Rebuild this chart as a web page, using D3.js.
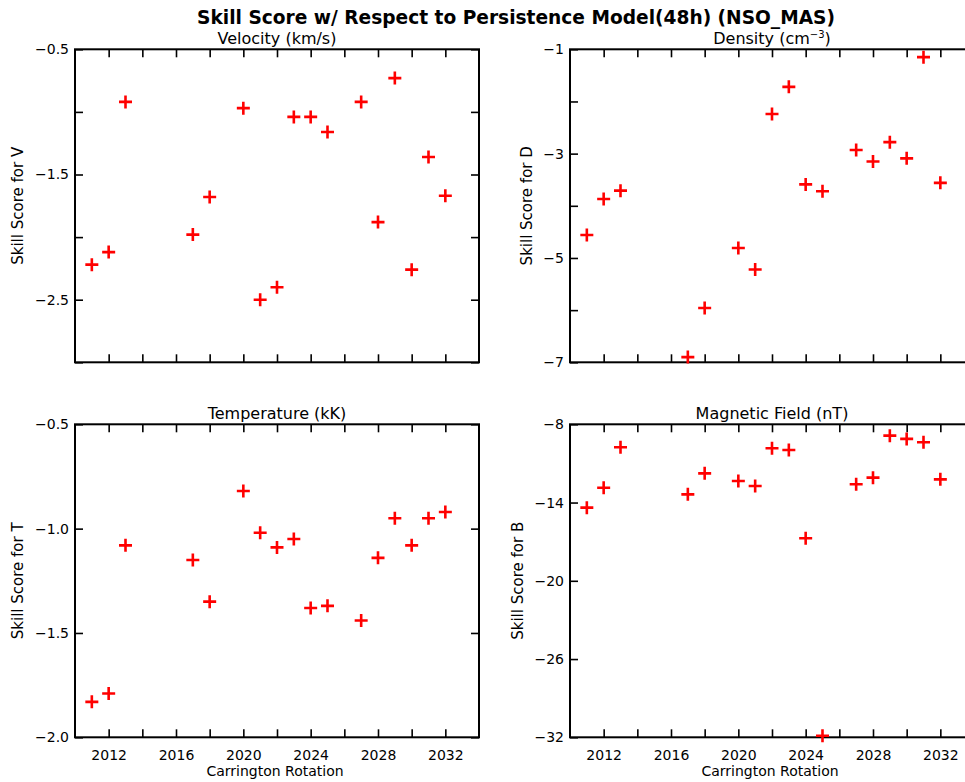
<!DOCTYPE html>
<html><head><meta charset="utf-8">
<script src="https://cdn.jsdelivr.net/npm/d3@7"></script>
<style>
body{margin:0;background:#fff}
svg{display:block}
text{font-family:"DejaVu Sans",sans-serif;fill:#000}
</style>
</head><body>
<svg id="chart" width="965" height="782"></svg>
<script>
// ---- data ----
const rotations   = [2011,2012,2013,2017,2018,2020,2021,2022,2023,2024,2025,2027,2028,2029,2030,2031,2032];
const velocity    = [-2.22,-2.12,-0.92,-1.98,-1.68,-0.97,-2.50,-2.40,-1.04,-1.04,-1.16,-0.92,-1.88,-0.73,-2.26,-1.36,-1.67];
const density     = [-4.56,-3.87,-3.71,-6.90,-5.96,-4.81,-5.22,-2.24,-1.72,-3.59,-3.72,-2.93,-3.15,-2.78,-3.09,-1.15,-3.56];
const temperature = [-1.83,-1.79,-1.08,-1.15,-1.35,-0.82,-1.02,-1.09,-1.05,-1.38,-1.37,-1.44,-1.14,-0.95,-1.08,-0.95,-0.92];
const magnetic    = [-14.39,-12.86,-9.76,-13.37,-11.76,-12.35,-12.73,-9.84,-9.97,-16.74,-31.88,-12.60,-12.09,-8.87,-9.12,-9.38,-12.22];

const xDomain     = [2010, 2034];
const xTicks      = [2012,2014,2016,2018,2020,2022,2024,2026,2028,2030,2032];
const xTickLabels = [2012,2016,2020,2024,2028,2032];

const vDomain = [-3, -0.5],  vTicks = [-0.5,-1,-1.5,-2,-2.5,-3], vTickLabels = [-0.5,-1.5,-2.5];
const dDomain = [-7, -1],    dTicks = [-1,-2,-3,-4,-5,-6,-7],   dTickLabels = [-1,-3,-5,-7];
const tDomain = [-2, -0.5],  tTicks = [-0.5,-1,-1.5,-2],        tTickLabels = [-0.5,-1.0,-1.5,-2.0];
const bDomain = [-32, -8],   bTicks = [-8,-14,-20,-26,-32],     bTickLabels = [-8,-14,-20,-26,-32];

const mainTitle = "Skill Score w/ Respect to Persistence Model(48h) (NSO_MAS)";
const xTitle = "Carrington Rotation";

// ---- layout ----
const svg = d3.select("#chart");
const W = 404;
const panels = [
  {x0:75,  y0:49.3,  y1:362.3, vals:velocity,    dom:vDomain, ticks:vTicks, labels:vTickLabels, fmt:d3.format(".1f"), title:"Velocity (km/s)", ytitle:"Skill Score for V", ytx:23, bottom:false},
  {x0:570, y0:49.3,  y1:362.3, vals:density,     dom:dDomain, ticks:dTicks, labels:dTickLabels, fmt:d3.format("d"),   title:"Density", sup:true, ytitle:"Skill Score for D", ytx:532, bottom:false},
  {x0:75,  y0:424.3, y1:737.3, vals:temperature, dom:tDomain, ticks:tTicks, labels:tTickLabels, fmt:d3.format(".1f"), title:"Temperature (kK)", ytitle:"Skill Score for T", ytx:23, bottom:true},
  {x0:570, y0:424.3, y1:737.3, vals:magnetic,    dom:bDomain, ticks:bTicks, labels:bTickLabels, fmt:d3.format("d"),   title:"Magnetic Field (nT)", ytitle:"Skill Score for B", ytx:523, bottom:true}
];
const minus = s => s.replace("-", "\u2212");

svg.append("text").attr("x", 516).attr("y", 23.5).attr("text-anchor","middle")
  .style("font-size","18.6px").style("font-weight","bold").text(mainTitle);

panels.forEach(p => {
  const x = d3.scaleLinear().domain(xDomain).range([p.x0, p.x0 + W]);
  const y = d3.scaleLinear().domain(p.dom).range([p.y1, p.y0]);
  const g = svg.append("g");
  const tick = 8;

  const styleAxis = sel => {
    sel.select(".domain").remove();
    sel.selectAll(".tick line").attr("stroke","#000").attr("stroke-width",1.6);
    sel.selectAll("text").style("font-size","14px").style("font-family","DejaVu Sans, sans-serif").attr("fill","#000");
  };

  // left axis with labels
  g.append("g").attr("transform",`translate(${p.x0},0)`)
    .call(d3.axisLeft(y).tickValues(p.ticks).tickSizeInner(-tick).tickSizeOuter(0).tickPadding(6)
      .tickFormat(v => p.labels.some(l => Math.abs(l - v) < 1e-9) ? minus(p.fmt(v)) : ""))
    .call(styleAxis);
  // right axis
  g.append("g").attr("transform",`translate(${p.x0 + W},0)`)
    .call(d3.axisRight(y).tickValues(p.ticks).tickSizeInner(-tick).tickSizeOuter(0).tickFormat(""))
    .call(styleAxis);
  // top axis
  g.append("g").attr("transform",`translate(0,${p.y0})`)
    .call(d3.axisTop(x).tickValues(xTicks).tickSizeInner(-tick).tickSizeOuter(0).tickFormat(""))
    .call(styleAxis);
  // bottom axis
  g.append("g").attr("transform",`translate(0,${p.y1})`)
    .call(d3.axisBottom(x).tickValues(xTicks).tickSizeInner(-tick).tickSizeOuter(0).tickPadding(13)
      .tickFormat(v => p.bottom && xTickLabels.includes(v) ? String(v) : ""))
    .call(styleAxis);

  // box
  g.append("rect").attr("x", p.x0).attr("y", p.y0).attr("width", W).attr("height", p.y1 - p.y0)
    .attr("fill","none").attr("stroke","#000").attr("stroke-width",2);

  // panel title
  const t = g.append("text").attr("x", p.x0 + W/2).attr("y", p.y0 - 5.5).attr("text-anchor","middle")
    .style("font-size","16px");
  if (p.sup) {
    t.append("tspan").text("Density (cm");
    t.append("tspan").attr("dy",-6).style("font-size","10px").text("\u22123");
    t.append("tspan").attr("dy",6).text(")");
  } else t.text(p.title);

  // y title
  g.append("text").attr("transform",`translate(${p.ytx},${(p.y0+p.y1)/2}) rotate(-90)`)
    .attr("text-anchor","middle").style("font-size","15px").text(p.ytitle);

  // x title
  if (p.bottom) g.append("text").attr("x", p.x0 + W/2 - 2).attr("y", 776).attr("text-anchor","middle")
    .style("font-size","14px").text(xTitle);

  // points (plus markers)
  const s = 6.5;
  g.append("g").selectAll("path").data(rotations.map((r,i)=>({r, v:p.vals[i]}))).join("path")
    .attr("d", d => { const cx = x(d.r), cy = y(d.v); return `M${cx - s},${cy}H${cx + s}M${cx},${cy - s}V${cy + s}`; })
    .attr("stroke","#ff0000").attr("stroke-width",2.6).attr("fill","none");
});
</script>
</body></html>
